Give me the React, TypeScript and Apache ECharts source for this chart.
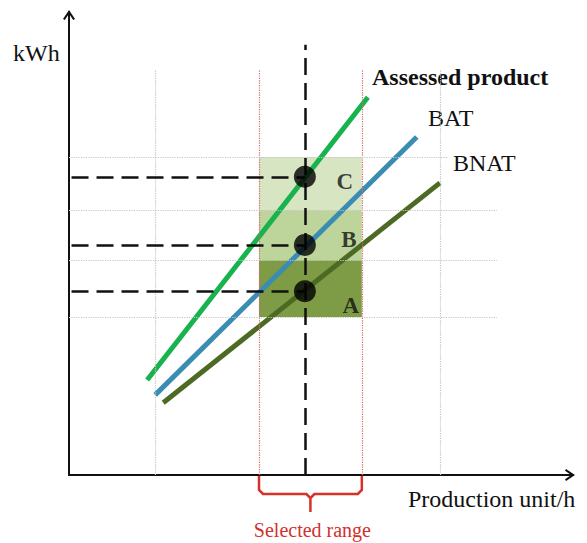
import React, { useEffect, useRef } from "react";
import * as echarts from "echarts";

const FONT = '"Liberation Serif", "Times New Roman", serif';

// Lines (x, y) in axis units
const seriesNames = ["Assessed product", "BAT", "BNAT"];
const assessedLine = [[1.55, 2.05], [5.93, 8.16]];
const batLine = [[1.71, 1.73], [6.9, 7.3]];
const bnatLine = [[1.87, 1.56], [7.36, 6.31]];

// Selected point / range
const selectedX = 4.68;
const selectedTop = 9.29;
const rangeX = [3.77, 5.81];

// Dotted reference grid
const gridX = [1.71, 7.36];
const gridTop = 8.75;
const gridY = [6.87, 5.72, 4.64, 3.41];
const gridYEnd = [7.5, 8.49, 8.49, 8.49];

// Levels
const levelNames = ["C", "B", "A"];
const levelY = [6.44, 4.97, 3.97];
const bandLow = [5.72, 4.64, 3.41];
const bandHigh = [6.87, 5.72, 4.64];

const lineColors = ["#18b24e", "#3a8cb2", "#4d6a25"];
const bandColors = ["#d8e5c3", "#bdd49a", "#7d9c45"];
const levelOffsets = [[40, 5], [44, -5], [46, 14]];

const ARROW = "path://M0,9 L6,0 L12,9 L10.2,10 L6,3.8 L1.8,10 Z";

export default function App() {
  const ref = useRef<HTMLDivElement>(null);
  useEffect(() => {
    document.body.style.margin = "0";
    const chart = echarts.init(ref.current!, null, { renderer: "svg" });
    const axisCommon = {
      type: "value" as const,
      min: 0,
      max: 10,
      axisTick: { show: false },
      axisLabel: { show: false },
      splitLine: { show: false },
      axisLine: {
        show: true,
        symbol: ["none", ARROW],
        symbolSize: [13, 10],
        symbolOffset: [0, -3],
        lineStyle: { color: "#111", width: 2 },
      },
    };
    const lines = [assessedLine, batLine, bnatLine];
    const option: any = {
      animation: false,
      grid: { left: 69, right: 14, top: 12, bottom: 68 },
      xAxis: { ...axisCommon },
      yAxis: { ...axisCommon },
      series: [
        {
          type: "line",
          name: "grid",
          data: [],
          z: 1,
          markLine: {
            silent: true,
            symbol: ["none", "none"],
            label: { show: false },
            data: [
              ...gridX.map((x) => [
                { coord: [x, 0], lineStyle: { color: "#c4c4c4", type: "dotted", width: 1.2 } },
                { coord: [x, gridTop] },
              ]),
              ...rangeX.map((x) => [
                { coord: [x, 0], lineStyle: { color: "#d66a6a", type: "dotted", width: 1.2 } },
                { coord: [x, gridTop] },
              ]),
              ...gridY.map((y, i) => [
                { coord: [0, y], lineStyle: { color: "#c4c4c4", type: "dotted", width: 1.2 } },
                { coord: [gridYEnd[i], y] },
              ]),
            ],
          },
        },
        {
          type: "line",
          name: "bands",
          data: [],
          z: 2,
          markArea: {
            silent: true,
            data: levelNames.map((n, i) => [
              { coord: [rangeX[0], bandLow[i]], itemStyle: { color: bandColors[i], opacity: 1 } },
              { coord: [rangeX[1], bandHigh[i]] },
            ]),
          },
        },
        ...lines.map((d, i) => ({
          type: "line",
          name: seriesNames[i],
          data: d,
          z: 3,
          showSymbol: false,
          symbol: "none",
          lineStyle: { color: lineColors[i], width: 5, cap: "butt" },
        })),
        {
          type: "line",
          name: "dashes",
          data: [],
          z: 4,
          markLine: {
            silent: true,
            symbol: ["none", "none"],
            label: { show: false },
            lineStyle: { color: "#111", type: [17, 8], width: 2.5 },
            data: [
              [{ coord: [selectedX, 0] }, { coord: [selectedX, selectedTop] }],
              ...levelY.map((y) => [{ coord: [0.05, y] }, { coord: [selectedX, y] }]),
            ],
          },
        },
        {
          type: "scatter",
          name: "levels",
          z: 5,
          symbolSize: 22,
          itemStyle: { color: "#000" },
          data: levelY.map((y, i) => ({
            value: [selectedX, y],
            label: {
              show: true,
              formatter: levelNames[i],
              position: "inside",
              offset: levelOffsets[i],
              color: "#111",
              fontFamily: FONT,
              fontWeight: "bold",
              fontSize: 23,
            },
          })),
        },
      ],
    };
    chart.setOption(option);

    const p0 = chart.convertToPixel({ gridIndex: 0 }, [rangeX[0], 0]) as number[];
    const p1 = chart.convertToPixel({ gridIndex: 0 }, [rangeX[1], 0]) as number[];
    const xl = p0[0];
    const xr = p1[0];
    const y0 = p0[1] + 1;
    const xm = (xl + xr) / 2;
    const bracePts = [
      [xl, y0],
      [xl, y0 + 14],
      [xl + 4, y0 + 18],
      [xm - 4, y0 + 18],
      [xm, y0 + 22],
      [xm, y0 + 36],
      [xm, y0 + 22],
      [xm + 4, y0 + 18],
      [xr - 4, y0 + 18],
      [xr, y0 + 14],
      [xr, y0],
    ];
    const txt = (text: string, x: number, y: number, extra: any = {}) => ({
      type: "text",
      x,
      y,
      style: {
        text,
        fontFamily: FONT,
        fontSize: 24,
        fill: "#111",
        textAlign: "left",
        align: "left",
        textVerticalAlign: "middle",
        verticalAlign: "middle",
        ...extra,
      },
    });
    chart.setOption({
      graphic: [
        {
          type: "polyline",
          shape: { points: bracePts },
          style: { stroke: "#d8302a", lineWidth: 2.5, fill: "none" },
        },
        txt("kWh", 13, 53),
        txt(seriesNames[0], 372, 77, { fontWeight: "bold" }),
        txt(seriesNames[1], 428, 118),
        txt(seriesNames[2], 453, 163),
        txt("Production unit/h", 408, 499),
        txt("Selected range", xm + 2, 530, {
          fontSize: 20,
          fill: "#d0312d",
          textAlign: "center",
          align: "center",
        }),
      ],
    });
    return () => chart.dispose();
  }, []);
  return <div ref={ref} style={{ width: 587, height: 543 }} />;
}
